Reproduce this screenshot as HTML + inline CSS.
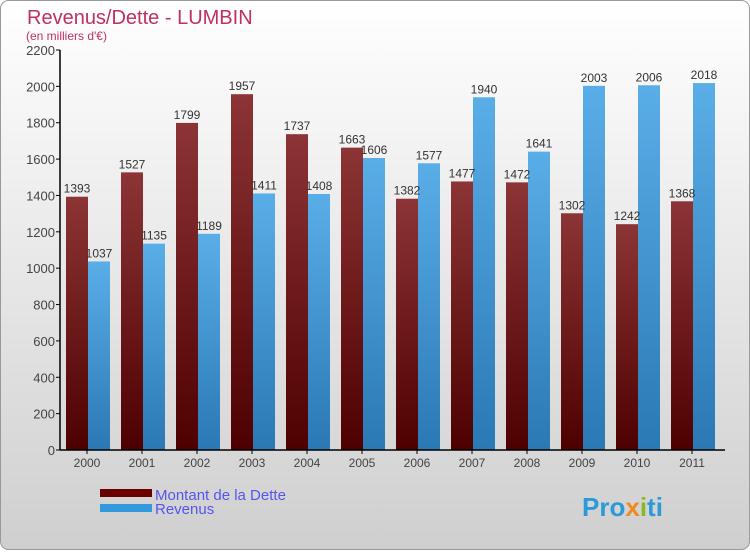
<!DOCTYPE html>
<html><head><meta charset="utf-8"><style>
body{margin:0;width:750px;height:550px;overflow:hidden;font-family:"Liberation Sans",sans-serif}
</style></head><body>
<svg id="c" width="750" height="550" xmlns="http://www.w3.org/2000/svg">
<defs>
<linearGradient id="bg" x1="0" y1="0" x2="0" y2="1"><stop offset="0" stop-color="#ffffff"/><stop offset="1" stop-color="#cfcfcf"/></linearGradient>
<linearGradient id="gd" x1="0" y1="0" x2="0" y2="1"><stop offset="0" stop-color="#8c3436"/><stop offset="1" stop-color="#4e0000"/></linearGradient>
<linearGradient id="gr" x1="0" y1="0" x2="0" y2="1"><stop offset="0" stop-color="#5aaee8"/><stop offset="1" stop-color="#2a78b4"/></linearGradient>
</defs>
<rect x="0.5" y="0.5" width="749" height="549" rx="8" fill="url(#bg)" stroke="#999"/>
<text x="27" y="24" font-size="20" fill="#c0305f">Revenus/Dette - LUMBIN</text>
<text x="26" y="40" font-size="12" fill="#c0305f">(en milliers d'€)</text>
<g id="plot"></g>
<rect x="100" y="489" width="52" height="8" fill="#6b0000"/>
<text x="155" y="500" font-size="15" fill="#5555ee">Montant de la Dette</text>
<rect x="100" y="504" width="52" height="8" fill="#3399dd"/>
<text x="155" y="514" font-size="15" fill="#5555ee">Revenus</text>
<text x="582" y="516" font-size="26" font-weight="bold" fill="#2a9ad8">Pro<tspan fill="#f08a20">x</tspan><tspan fill="#88bb22">i</tspan>ti</text>
</svg>
<script>
const years=["2000","2001","2002","2003","2004","2005","2006","2007","2008","2009","2010","2011"];
const dette=[1393,1527,1799,1957,1737,1663,1382,1477,1472,1302,1242,1368];
const revenus=[1037,1135,1189,1411,1408,1606,1577,1940,1641,2003,2006,2018];
const ticks=[0,200,400,600,800,1000,1200,1400,1600,1800,2000,2200];
const NS="http://www.w3.org/2000/svg";
const g=document.getElementById('plot');
const y0=450,ppu=400/2200,x0=60,step=55;
const Y=v=>y0-v*ppu, X=i=>x0+27+i*step;
function mk(t,a,p){const e=document.createElementNS(NS,t);for(const k in a)e.setAttribute(k,a[k]);(p||g).appendChild(e);return e;}
ticks.forEach(t=>{
 const l=mk('line',{x1:x0-4,x2:x0,y1:Y(t),y2:Y(t),stroke:'#000'});
 
 
 const tx=mk('text',{x:x0-5,y:Y(t)+5,'font-size':13,fill:'#444','text-anchor':'end'});
 tx.textContent=t;
 
 
});
years.forEach((yr,i)=>{
 const cx=X(i);
 const d=mk('rect',{x:cx-21,y:Y(dette[i]),width:22,height:dette[i]*ppu,fill:'url(#gd)'});
 
 
 const r=mk('rect',{x:cx+1,y:Y(revenus[i]),width:22,height:revenus[i]*ppu,fill:'url(#gr)'});
 
 
 const t1=mk('text',{x:cx-10,y:Y(dette[i])-4,'font-size':12,fill:'#333','text-anchor':'middle'});
 t1.textContent=dette[i];
 
 
 const t2=mk('text',{x:cx+12,y:Y(revenus[i])-4,'font-size':12,fill:'#333','text-anchor':'middle'});
 t2.textContent=revenus[i];
 
 
 const tk=mk('line',{x1:cx,x2:cx,y1:y0,y2:y0+4,stroke:'#000'});
 
 
 const xl=mk('text',{x:cx,y:y0+17,'font-size':12,fill:'#444','text-anchor':'middle'});
 xl.textContent=yr;
 
 
});
const ya=mk('line',{x1:x0,x2:x0,y1:Y(2200),y2:y0,stroke:'#000','stroke-width':1.5});


const xa=mk('line',{x1:x0,x2:725,y1:y0,y2:y0,stroke:'#000','stroke-width':1.5});


</script>
</body></html>
